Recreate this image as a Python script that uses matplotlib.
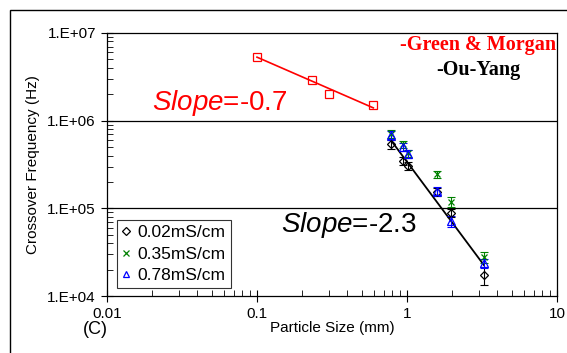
import matplotlib
matplotlib.use("Agg")
import matplotlib.pyplot as plt
from matplotlib.ticker import FixedLocator, LogLocator, NullFormatter
from matplotlib.patches import Rectangle
import numpy as np

plt.rcParams['font.family'] = ['Liberation Sans', 'DejaVu Sans']
plt.rcParams['mathtext.fontset'] = 'custom'
plt.rcParams['mathtext.it'] = 'Liberation Sans:italic'
plt.rcParams['mathtext.rm'] = 'Liberation Sans'

# Green & Morgan (red squares)
gm_size = [0.1, 0.232, 0.302, 0.596]
gm_freq = [5.3e6, 2.94e6, 2.0e6, 1.5e6]
gm_fit_x = [0.1, 0.596]
gm_fit_y = [5.3e6, 1.4e6]

# Ou-Yang data
oy_size = [0.78, 0.935, 1.01, 1.58, 1.98, 3.25]
freq_002 = [5.4e5, 3.5e5, 3.07e5, 1.55e5, 8.9e4, 1.73e4]
err_002 = [6e4, 4e4, 3e4, 1.5e4, 1e4, 4e3]
freq_035 = [7.05e5, 5.4e5, 4.25e5, 2.45e5, 1.18e5, 2.8e4]
err_035 = [7e4, 5e4, 4e4, 2.5e4, 1.5e4, 4e3]
freq_078 = [6.8e5, 4.99e5, 4.2e5, 1.57e5, 7.1e4, 2.37e4]
err_078 = [8e4, 5e4, 4e4, 2e4, 1e4, 3e3]
oy_fit_x = [0.78, 3.25]
oy_fit_y = [6.0e5, 2.26e4]

x_ticks = [0.01, 0.1, 1, 10]
x_labels = ['0.01', '0.1', '1', '10']
y_ticks = [1e4, 1e5, 1e6, 1e7]
y_labels = ['1.E+04', '1.E+05', '1.E+06', '1.E+07']

fig = plt.figure(figsize=(5.67, 3.53), dpi=100)
ax = fig.add_axes([107/567, 1-296/353, 450/567, 263/353])

# outer frame of the figure
fig.patches.append(Rectangle((10/567, -0.1), 1.2, 1-10/353+0.1, transform=fig.transFigure,
                             fill=False, edgecolor='black', linewidth=1.0))

ax.set_xscale('log')
ax.set_yscale('log')
ax.set_xlim(0.01, 10)
ax.set_ylim(1e4, 1e7)

for yv in y_ticks[1:3]:
    ax.axhline(yv, color='black', linewidth=0.9, zorder=1)

ax.plot(gm_fit_x, gm_fit_y, color='red', linewidth=1.2, zorder=2)
ax.plot(gm_size, gm_freq, linestyle='none', marker='s', markersize=6,
        markerfacecolor='none', markeredgecolor='red', markeredgewidth=0.9, zorder=3)

ax.plot(oy_fit_x, oy_fit_y, color='black', linewidth=1.3, zorder=2)

series = [
    (freq_002, err_002, 'black', 'D', 4.2, '0.02mS/cm'),
    (freq_035, err_035, 'green', 'x', 5.0, '0.35mS/cm'),
    (freq_078, err_078, 'blue', '^', 5.5, '0.78mS/cm'),
]
for freq, err, col, mk, ms, lab in series:
    ax.errorbar(oy_size, freq, yerr=err, fmt='none', ecolor=col, capsize=3,
                elinewidth=0.8, capthick=0.8, zorder=4)
    ax.plot(oy_size, freq, linestyle='none', marker=mk, markersize=ms,
            markerfacecolor='none', markeredgecolor=col, markeredgewidth=0.9,
            label=lab, zorder=5)

ax.xaxis.set_major_locator(FixedLocator(x_ticks))
ax.set_xticklabels(x_labels)
ax.yaxis.set_major_locator(FixedLocator(y_ticks))
ax.set_yticklabels(y_labels)
ax.xaxis.set_minor_locator(LogLocator(base=10, subs=np.arange(2, 10)))
ax.yaxis.set_minor_locator(LogLocator(base=10, subs=np.arange(2, 10)))
ax.xaxis.set_minor_formatter(NullFormatter())
ax.yaxis.set_minor_formatter(NullFormatter())
ax.tick_params(which='major', direction='inout', length=8, width=0.8, labelsize=11, pad=4)
ax.tick_params(which='minor', direction='in', length=4, width=0.6)
for sp in ax.spines.values():
    sp.set_linewidth(0.9)

ax.set_xlabel('Particle Size (mm)', fontsize=11, labelpad=0)
ax.set_ylabel('Crossover Frequency (Hz)', fontsize=11, labelpad=5)

leg = ax.legend(loc='lower left', fontsize=12.5, frameon=True, fancybox=False,
                edgecolor='black', handlelength=0.5, handletextpad=0.4,
                borderpad=0.3, labelspacing=0.35, bbox_to_anchor=(0.01, 0.01),
                borderaxespad=0.3)
leg.get_frame().set_linewidth(0.8)
for h in leg.legend_handles:
    h.set_markersize(4)

ax.text(0.02, 1.32e6, r'$Slope$=-0.7', color='red', fontsize=20)
ax.text(0.144, 5.4e4, r'$Slope$=-2.3', color='black', fontsize=20)

ax.text(0.997, 0.955, '-Green & Morgan', transform=ax.transAxes, ha='right', va='center',
        color='red', fontsize=14.5, fontweight='bold', family='Liberation Serif')
ax.text(0.731, 0.86, '-Ou-Yang', transform=ax.transAxes, ha='left', va='center',
        color='black', fontsize=14.5, fontweight='bold', family='Liberation Serif')

fig.text(95/567, 1-329/353, '(C)', ha='center', va='center', fontsize=13,
         family=['Liberation Sans Narrow', 'Liberation Sans'])

fig.savefig('out.png', dpi=100)
